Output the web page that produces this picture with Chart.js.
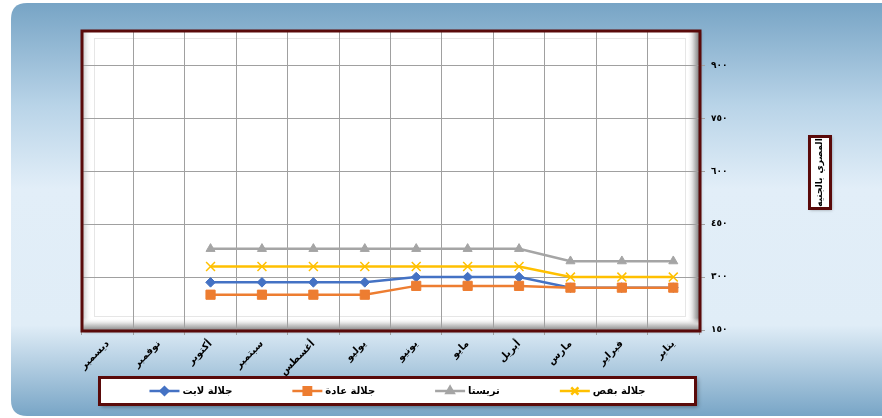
<!DOCTYPE html>
<html>
<head>
<meta charset="utf-8">
<script src="https://cdn.jsdelivr.net/npm/chart.js@4/dist/chart.umd.min.js"></script>
<style>
  html, body { margin: 0; padding: 0; background: #ffffff; }
  #wrap { width: 882px; height: 418px; }
</style>
</head>
<body>
<div id="wrap"><canvas id="priceChart" width="882" height="418"></canvas></div>
<script>
// البيانات
const months = ['يناير', 'فبراير', 'مارس', 'أبريل', 'مايو', 'يونيو', 'يوليو', 'أغسطس', 'سبتمبر', 'أكتوبر', 'نوفمبر', 'ديسمبر'];
const lightValues   = [270, 270, 270, 300, 300, 300, 285, 285, 285, 285, null, null];
const regularValues = [270, 270, 270, 275, 275, 275, 250, 250, 250, 250, null, null];
const tristaValues  = [345, 345, 345, 380, 380, 380, 380, 380, 380, 380, null, null];
const bafasValues   = [300, 300, 300, 330, 330, 330, 330, 330, 330, 330, null, null];
const yTicks = [150, 300, 450, 600, 750, 900];
const yTitle = 'بالجنيه المصري';

const FONT = 'DejaVu Sans';
const MAROON = '#5a0a0a';
const arDigits = '٠١٢٣٤٥٦٧٨٩';
const toArabic = v => String(v).replace(/\d/g, d => arDigits[d]);

function roundRect(ctx, x, y, w, h, r) {
    ctx.beginPath();
    ctx.moveTo(x + r, y);
    ctx.lineTo(x + w, y);
    ctx.lineTo(x + w, y + h);
    ctx.lineTo(x + r, y + h);
    ctx.quadraticCurveTo(x, y + h, x, y + h - r);
    ctx.lineTo(x, y + r);
    ctx.quadraticCurveTo(x, y, x + r, y);
    ctx.closePath();
}

// خلفية المخطط والإطار
const frameBackground = {
    id: 'frameBackground',
    beforeDraw(chart) {
        const ctx = chart.ctx;
        const a = chart.chartArea;
        ctx.save();
        const g = ctx.createLinearGradient(0, 3, 0, 416);
        g.addColorStop(0, '#77a4c5');
        g.addColorStop(0.25, '#b9d4e8');
        g.addColorStop(0.45, '#e2eef8');
        g.addColorStop(0.78, '#e0edf7');
        g.addColorStop(1, '#78a5c6');
        ctx.fillStyle = g;
        roundRect(ctx, 11, 3, 900, 413, 16);
        ctx.fill();

        // مساحة الرسم البيضاء مع ظل خفيف
        ctx.shadowColor = 'rgba(0,0,0,0.3)';
        ctx.shadowBlur = 3;
        ctx.shadowOffsetX = 2;
        ctx.shadowOffsetY = 2;
        ctx.fillStyle = '#ffffff';
        ctx.fillRect(a.left, a.top, a.right - a.left, a.bottom - a.top);
        ctx.shadowColor = 'transparent';

        // حواف بارزة
        let gl = ctx.createLinearGradient(a.left, 0, a.left + 10, 0);
        gl.addColorStop(0, '#bdbdbd');
        gl.addColorStop(1, 'rgba(255,255,255,0)');
        ctx.fillStyle = gl;
        ctx.fillRect(a.left, a.top, 10, a.bottom - a.top);

        let gr = ctx.createLinearGradient(a.right - 12, 0, a.right, 0);
        gr.addColorStop(0, 'rgba(255,255,255,0)');
        gr.addColorStop(0.5, '#d9d9d9');
        gr.addColorStop(1, '#7f7f7f');
        ctx.fillStyle = gr;
        ctx.fillRect(a.right - 12, a.top, 12, a.bottom - a.top);

        let gb = ctx.createLinearGradient(0, a.bottom - 12, 0, a.bottom);
        gb.addColorStop(0, 'rgba(255,255,255,0)');
        gb.addColorStop(0.5, '#d6d6d6');
        gb.addColorStop(1, '#8c8c8c');
        ctx.fillStyle = gb;
        ctx.fillRect(a.left, a.bottom - 12, a.right - a.left, 12);

        ctx.strokeStyle = '#e6e6e6';
        ctx.lineWidth = 1;
        ctx.strokeRect(a.left + 12.5, a.top + 8.5, a.right - a.left - 26, a.bottom - a.top - 22);
        ctx.restore();
    },
    afterDraw(chart) {
        const ctx = chart.ctx;
        const a = chart.chartArea;
        ctx.save();
        ctx.strokeStyle = MAROON;
        ctx.lineWidth = 3;
        ctx.strokeRect(a.left, a.top + 1, a.right - a.left + 1, a.bottom - a.top);
        ctx.restore();
    }
};

// عنوان المحور الرأسي في صندوق (الكلمة الأولى في الأسفل كما في الأصل)
const axisTitleBox = {
    id: 'axisTitleBox',
    afterDraw(chart) {
        const ctx = chart.ctx;
        ctx.save();
        ctx.shadowColor = 'rgba(0,0,0,0.35)';
        ctx.shadowBlur = 3;
        ctx.shadowOffsetX = 1;
        ctx.shadowOffsetY = 1;
        ctx.fillStyle = '#ffffff';
        ctx.fillRect(809, 136, 22, 73);
        ctx.shadowColor = 'transparent';
        ctx.strokeStyle = MAROON;
        ctx.lineWidth = 3;
        ctx.strokeRect(809.5, 136.5, 21, 72);
        ctx.translate(820, 172.5);
        ctx.rotate(-Math.PI / 2);
        ctx.fillStyle = '#000000';
        ctx.font = 'bold 9px "' + FONT + '"';
        ctx.textBaseline = 'middle';
        const words = yTitle.split(' ');
        const space = 4;
        const widths = words.map(w => ctx.measureText(w).width);
        const total = widths.reduce((s, w) => s + w, 0) + space * (words.length - 1);
        let x = -total / 2;
        ctx.textAlign = 'left';
        words.forEach((w, i) => {
            ctx.fillText(w, x, 0);
            x += widths[i] + space;
        });
        ctx.restore();
    }
};

// وسيلة الإيضاح
const boxLegend = {
    id: 'boxLegend',
    afterDraw(chart) {
        const ctx = chart.ctx;
        const box = { x: 99, y: 377, w: 597, h: 28 };
        ctx.save();
        ctx.shadowColor = 'rgba(0,0,0,0.35)';
        ctx.shadowBlur = 4;
        ctx.shadowOffsetX = 2;
        ctx.shadowOffsetY = 2;
        ctx.fillStyle = '#ffffff';
        ctx.fillRect(box.x, box.y, box.w, box.h);
        ctx.shadowColor = 'transparent';
        ctx.strokeStyle = MAROON;
        ctx.lineWidth = 3;
        ctx.strokeRect(box.x + 0.5, box.y + 0.5, box.w - 1, box.h - 1);

        ctx.font = 'bold 10px "' + FONT + '"';
        const lineLen = 30, gap = 60, textGap = 3;
        const items = chart.data.datasets.map(ds => ({ ds, tw: ctx.measureText(ds.label).width }));
        const total = items.reduce((s, it) => s + lineLen + textGap + it.tw, 0) + gap * (items.length - 1);
        let x = box.x + (box.w - total) / 2;
        const cy = box.y + box.h / 2;
        items.forEach(it => {
            const ds = it.ds;
            ctx.strokeStyle = ds.borderColor;
            ctx.lineWidth = 2.5;
            ctx.beginPath();
            ctx.moveTo(x, cy);
            ctx.lineTo(x + lineLen, cy);
            ctx.stroke();
            ctx.fillStyle = ds.pointBackgroundColor;
            ctx.strokeStyle = ds.pointBorderColor;
            Chart.helpers.drawPoint(ctx, {
                pointStyle: ds.pointStyle,
                radius: ds.pointRadius * 0.8,
                borderWidth: ds.pointBorderWidth,
                rotation: 0
            }, x + lineLen / 2, cy);
            ctx.fillStyle = '#000000';
            ctx.textAlign = 'left';
            ctx.textBaseline = 'middle';
            ctx.fillText(ds.label, x + lineLen + textGap, cy);
            x += lineLen + textGap + it.tw + gap;
        });
        ctx.restore();
    }
};

function series(label, data, color, style, radius, bw, order) {
    return {
        label: label,
        data: data,
        borderColor: color,
        backgroundColor: color,
        pointBackgroundColor: style === 'crossRot' ? 'rgba(0,0,0,0)' : color,
        pointBorderColor: color,
        pointStyle: style,
        pointRadius: radius,
        pointHoverRadius: radius,
        pointBorderWidth: bw,
        borderWidth: 2.5,
        tension: 0,
        spanGaps: false,
        fill: false,
        order: order
    };
}

const ctx = document.getElementById('priceChart').getContext('2d');
const priceChart = new Chart(ctx, {
    type: 'line',
    data: {
        labels: months,
        datasets: [
            series('جلالة لايت', lightValues, '#4472c4', 'rectRot', 4.8, 1, 4),
            series('جلالة عادة', regularValues, '#ed7d31', 'rect', 6.5, 1, 3),
            series('تريستا', tristaValues, '#a5a5a5', 'triangle', 5.2, 1, 2),
            series('جلالة بفص', bafasValues, '#ffc000', 'crossRot', 6.3, 1.5, 1)
        ]
    },
    options: {
        responsive: false,
        animation: false,
        layout: { padding: { left: 82, top: 30, right: 0, bottom: 0 } },
        plugins: {
            legend: { display: false },
            tooltip: { enabled: false }
        },
        scales: {
            x: {
                reverse: true,
                offset: true,
                grid: {
                    offset: true,
                    color: '#a0a0a0',
                    lineWidth: 1,
                    drawTicks: true,
                    tickLength: 5,
                    tickColor: '#a0a0a0'
                },
                border: { display: false },
                ticks: {
                    autoSkip: false,
                    maxRotation: 45,
                    minRotation: 45,
                    padding: 3,
                    color: '#000000',
                    font: { family: FONT, size: 10, weight: 'bold' }
                },
                afterFit(scale) { scale.height = 88; }
            },
            y: {
                position: 'right',
                min: 150,
                max: 1000,
                afterBuildTicks(scale) {
                    scale.ticks = yTicks.map(v => ({ value: v }));
                },
                grid: {
                    color: '#a0a0a0',
                    lineWidth: 1,
                    drawTicks: true,
                    tickLength: 6,
                    tickColor: '#a0a0a0'
                },
                border: { display: false },
                ticks: {
                    padding: 6,
                    color: '#000000',
                    font: { family: FONT, size: 9, weight: 'bold' },
                    callback: v => toArabic(v)
                },
                afterFit(scale) { scale.width = 183; }
            }
        }
    },
    plugins: [frameBackground, axisTitleBox, boxLegend]
});
</script>
</body>
</html>
